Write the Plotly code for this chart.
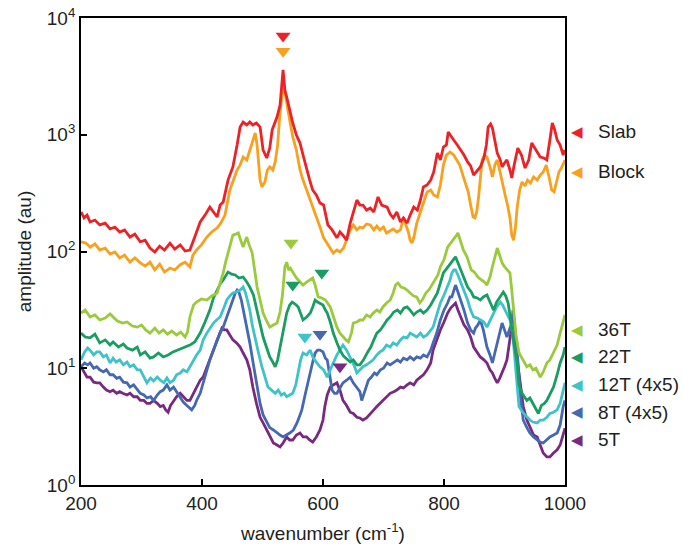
import numpy as np
import plotly.graph_objects as go

# ---------------- data ----------------
slab_wn = [200,205,210,215,223,231,240,248,256,264,272,281,289,298,306,314,322,330,338,347,355,364,372,380,388,397,405,413,419,425,430,435,443,451,458,463,468,474,479,484,490,496,501,507,512,516,524,529,534,537,540,545,550,556,562,567,573,578,583,589,595,601,608,615,623,628,633,639,645,650,656,661,666,672,678,684,691,697,706,711,716,722,728,733,739,744,750,756,761,766,772,778,783,789,794,799,804,807,812,816,822,828,833,839,844,849,855,860,866,870,873,877,880,884,888,893,896,900,904,909,912,916,922,928,934,940,945,952,959,965,970,975,979,983,987,992,997,1000]
slab_amp = [218,194,205,179,186,169,175,156,162,147,153,133,141,121,125,107,99,111,103,118,105,114,101,103,133,179,205,240,218,198,250,265,409,530,817,1164,1285,1213,1285,1213,1262,1164,740,632,769,1099,1419,1798,3589,2416,2104,1629,1262,995,849,671,499,409,336,305,260,250,169,153,131,147,138,125,175,218,276,250,250,226,236,218,293,250,240,209,194,218,179,194,175,205,240,226,276,357,371,409,480,698,608,785,817,1057,957,902,817,740,671,585,540,452,499,530,632,817,1164,1236,1143,902,698,608,530,573,608,499,426,551,769,671,519,608,849,740,645,632,608,902,1262,1099,902,817,671,740]

block_wn = [200,208,215,223,231,240,248,256,264,272,281,289,298,306,314,322,330,338,347,355,364,372,380,385,391,399,408,416,425,431,438,443,446,452,458,463,468,474,479,485,488,491,493,496,499,504,508,512,517,521,525,529,534,538,542,546,550,556,562,567,573,578,583,589,595,601,607,612,617,623,628,634,640,645,650,656,661,666,672,678,684,689,694,700,705,711,716,722,728,733,738,741,744,747,750,755,761,766,772,778,783,789,794,799,804,810,816,821,826,832,837,840,844,848,851,854,857,860,863,867,871,876,880,884,888,893,897,901,905,909,912,915,918,921,925,929,934,938,943,948,954,959,964,969,974,978,982,986,990,994,1000]
block_amp = [121,118,109,116,103,107,95,99,88,93,81,88,80,75,81,69.5,78,66.7,72,69.5,77,81,74,93,103,114,133,147,159,175,205,287,336,409,499,551,645,608,740,902,1035,817,608,409,357,394,499,530,499,585,817,1566,2512,2190,1629,1213,957,740,499,409,336,287,240,205,162,131,118,107,97,103,99,107,133,153,169,153,162,159,172,169,153,165,153,162,144,150,156,147,153,194,165,147,125,118,131,175,218,260,324,336,305,293,371,551,671,711,671,608,551,435,371,324,250,198,194,218,287,409,608,671,645,530,435,551,608,470,371,305,250,194,138,125,159,240,336,394,364,409,386,435,409,452,480,551,426,336,324,409,480,519,608]

t36_wn = [200,207,215,223,231,240,248,253,260,269,276,285,293,300,307,314,322,329,336,343,350,358,365,372,376,380,386,391,399,408,416,425,430,435,439,443,447,451,456,460,464,468,471,474,478,483,487,491,496,501,506,512,518,524,529,533,537,540,543,546,550,556,562,567,573,578,583,587,592,598,604,612,618,623,628,633,638,642,647,650,656,661,666,672,678,683,689,694,699,705,711,716,720,724,729,734,739,744,750,755,760,764,770,775,780,786,790,794,800,806,811,816,820,823,827,832,838,845,850,856,862,867,871,876,880,884,888,892,896,900,904,909,912,915,919,924,930,937,942,947,952,959,964,970,975,981,987,992,997,1000]
t36_amp = [29.7,31.5,27.5,28.6,25.9,26.9,29.2,27.5,25.4,24.4,24.9,23.0,22.5,23.5,21.3,20.0,22.1,20.0,21.3,19.6,20.8,19.3,20.4,18.5,20.4,27.5,34.8,36.9,39.2,38.4,41.6,44.1,53.7,65.5,81,97,118,138,141,144,125,109,121,133,114,97,69.5,49.6,38.4,29.7,25.9,22.5,23.5,24.4,30.3,42.4,74,81,69.5,72,66.7,59.3,54.8,51.6,54.8,57,59.3,51.6,40.8,40.0,38.4,33.5,26.9,22.5,20.0,18.5,17.5,16.8,20.0,24.4,24.9,25.9,25.9,28.6,27.5,29.7,31.5,30.3,33.5,36.2,38.4,44.1,51.6,53.7,49.6,48.7,46.8,44.1,41.6,40.8,36.2,38.4,44.1,46.8,51.6,57,63,74,85,109,118,125,136,144,125,103,90,69.5,66.7,60.5,57,54.8,51.6,60.5,74,90,107,93,80,74,69.5,65.5,46.8,29.7,19.3,13.5,11.8,10.3,10.7,9.7,10.0,8.4,9.3,11.1,11.8,13.5,15.8,20.0,25.9,28.6]

t22_wn = [200,207,215,223,231,240,248,253,262,270,276,285,293,298,306,314,320,328,336,344,352,358,364,372,380,388,397,405,413,419,425,430,435,439,443,449,455,461,468,474,479,485,491,496,501,507,512,517,521,525,529,535,540,545,549,554,559,564,567,573,579,583,587,591,595,600,604,607,612,617,623,628,634,640,645,650,656,661,667,673,679,684,689,695,700,706,711,717,723,728,734,739,744,750,755,761,766,772,778,783,789,794,799,805,811,815,819,823,828,834,839,845,849,855,860,865,871,876,882,887,893,898,902,906,909,912,916,921,924,929,937,942,947,952,956,961,966,970,976,981,987,992,997,1000]
t22_amp = [20.0,18.5,18.2,19.6,16.5,17.5,15.8,16.8,15.2,16.1,14.9,14.3,15.2,13.0,13.8,12.2,12.5,13.5,12.5,13.0,13.8,14.3,14.6,15.2,15.8,16.8,20.0,24.9,31.5,40.0,46.8,52.7,57,61.7,66.7,64,63,59.3,60.5,54.8,49.6,42.4,31.5,24.4,18.5,14.9,12.5,11.3,10.3,11.8,15.2,21.3,29.7,34.8,36.9,35.5,33.5,28.6,25.9,27.5,29.7,33.5,38.4,36.9,36.2,34.8,31.5,29.7,24.9,20.0,16.5,14.3,12.7,11.8,11.3,11.8,10.7,10.7,11.8,13.5,15.2,17.5,20.0,21.3,23.5,25.9,27.5,30.3,31.5,29.7,32.8,33.5,31.5,28.6,30.3,31.5,29.7,31.5,34.8,38.4,44.1,53.7,65.5,72,80,85,90,80,69.5,59.3,49.6,45.0,40.8,40.0,38.4,40.8,42.4,36.9,31.5,36.9,40.8,45.0,41.6,36.2,28.6,21.3,15.8,11.1,7.2,6.1,5.3,5.56,5.0,4.57,4.1,4.8,5.0,5.3,6.1,6.9,8.8,11.1,13.0,15.2]

t12_wn = [200,206,211,215,221,226,231,237,242,248,253,258,264,270,276,281,287,293,298,304,309,315,320,326,331,337,342,347,353,358,364,369,375,380,386,391,397,402,408,413,419,424,430,436,441,446,451,457,463,468,472,475,479,483,488,493,499,504,509,515,521,526,531,536,540,545,550,555,559,563,567,573,579,583,589,595,601,607,612,617,623,628,633,639,645,651,656,661,666,672,678,683,689,694,699,705,711,716,722,728,733,739,744,750,755,761,766,772,778,782,788,794,800,806,810,813,816,819,823,828,833,839,844,849,855,860,866,871,876,882,887,893,897,901,905,909,913,917,921,924,930,937,942,947,954,959,964,970,975,981,987,992,997,1000]
t12_amp = [11.8,13.8,14.9,14.3,13.0,13.8,13.8,12.5,13.0,11.1,12.2,11.3,11.8,10.7,11.3,10.3,10.7,9.7,9.7,8.4,7.5,8.25,7.78,8.4,7.9,7.5,8.25,7.5,7.9,8.8,9.1,9.7,9.3,10.3,11.8,13.0,14.3,17.5,20.0,22.1,24.4,25.9,27.5,32.8,38.4,41.6,44.1,45.0,46.8,49.6,44.1,38.4,31.5,23.5,17.5,13.8,10.3,8.4,6.9,6.5,6.1,6.5,5.9,6.1,5.7,5.9,6.1,7.2,9.1,11.8,13.5,13.0,14.3,12.5,11.3,10.3,9.7,8.4,9.7,11.1,13.0,14.3,15.8,14.3,12.5,10.7,9.1,9.7,10.3,10.7,11.3,11.8,13.0,13.8,14.3,15.8,15.2,16.5,15.8,17.5,18.5,18.2,20.0,19.3,18.5,20.0,18.5,19.3,21.3,22.5,28.6,36.2,42.4,49.6,57,65.5,69.5,69.5,63,53.7,46.8,38.4,31.5,27.5,26.9,25.9,24.9,22.5,25.9,29.7,33.5,36.9,34.8,31.5,28.6,25.9,21.3,11.8,7.2,4.7,4.2,3.8,3.6,3.46,3.4,3.6,3.6,3.8,4.1,4.2,4.4,5.0,6.5,7.5]

t8_wn = [200,206,211,215,221,226,231,237,242,248,253,259,264,270,276,281,287,293,298,304,309,315,320,326,331,336,342,347,353,358,364,369,375,380,383,388,391,397,402,408,413,419,425,430,435,441,446,451,455,458,461,465,469,474,479,485,491,496,501,507,512,518,524,529,534,540,545,551,557,562,565,571,575,579,583,587,591,595,600,604,607,611,615,619,623,628,633,639,645,650,656,661,664,669,675,680,685,689,695,700,706,711,717,723,728,733,739,744,750,755,761,766,772,778,782,788,794,800,806,810,813,816,819,823,828,833,839,844,849,852,856,860,865,871,876,880,884,888,892,896,900,904,908,912,914,917,922,926,931,937,942,948,954,959,964,970,975,981,987,992,997,1000]
t8_amp = [10.3,11.1,10.7,11.1,10.0,10.3,9.7,9.3,9.7,8.8,8.8,8.2,8.4,7.6,7.5,6.9,7.2,6.5,6.1,5.9,5.56,5.7,5.3,5.9,6.3,6.5,7.2,6.5,6.9,6.3,5.7,5.14,4.8,4.57,4.4,4.8,5.3,6.1,7.5,9.3,11.8,14.3,17.5,20.0,22.5,27.5,33.5,38.4,44.1,46.8,45.0,38.4,30.3,23.5,16.5,10.7,7.2,5.0,3.98,3.46,3.1,2.96,2.79,2.68,2.58,2.68,2.79,2.96,3.4,3.98,4.4,6.1,7.6,9.7,11.3,13.5,14.3,14.3,13.8,12.2,11.8,8.8,6.5,6.1,6.1,6.78,7.5,7.9,8.4,7.5,6.9,6.3,5.3,6.5,7.9,8.4,9.1,8.8,9.7,10.0,11.1,10.7,11.3,11.8,11.3,12.2,11.8,12.5,11.8,12.5,12.2,13.0,12.5,14.3,16.5,20.0,25.9,31.5,36.2,40.8,40.8,46.8,51.6,45.0,38.4,31.5,24.4,21.3,20.0,22.1,23.5,25.9,21.3,15.2,13.0,11.1,13.5,16.5,20.0,24.4,21.3,18.5,21.3,24.4,31.5,21.3,11.8,5.9,3.6,3.1,2.79,2.58,2.43,2.33,2.29,2.43,2.58,2.68,2.79,3.26,4.7,5.3]

t5_wn = [200,205,210,215,221,226,231,237,242,248,253,259,264,269,276,281,287,293,298,304,309,314,320,326,331,336,340,344,348,352,358,364,369,375,380,386,391,397,402,408,413,419,425,429,433,437,441,446,451,457,463,468,474,479,484,490,496,501,507,512,518,524,529,534,540,545,550,556,562,567,573,578,583,589,595,600,603,607,612,617,623,628,633,639,645,650,656,661,666,672,678,684,689,694,700,705,711,717,722,728,733,739,744,750,755,761,766,772,778,782,788,794,800,806,811,816,819,823,828,833,839,844,849,855,860,866,871,876,880,884,888,892,896,900,904,906,910,914,918,922,927,931,937,942,948,954,959,964,970,975,981,987,992,997,1000]
t5_amp = [10.3,9.3,8.4,8.4,7.6,7.5,7.5,6.9,6.5,6.3,6.5,6.1,6.3,6.1,5.9,6.1,5.7,5.7,5.3,5.3,5.0,5.0,5.3,5.0,4.7,4.8,4.4,4.2,4.8,5.14,5.7,6.1,5.7,5.3,5.3,6.1,6.9,7.9,8.4,10.0,11.8,14.3,17.5,20.0,22.1,21.3,21.3,19.3,17.5,16.5,15.2,13.5,11.8,9.7,6.9,5.0,3.8,3.4,2.96,2.68,2.29,2.2,2.12,2.29,2.58,2.43,2.43,2.68,2.79,2.58,2.58,2.43,2.33,2.58,2.96,3.6,4.7,5.9,6.9,7.2,7.5,6.5,5.3,4.8,4.2,4.1,3.8,3.75,3.6,3.75,4.1,4.4,4.7,5.0,5.3,5.7,6.1,6.3,6.5,6.9,6.78,7.2,7.5,7.2,7.9,8.4,8.8,9.7,11.1,14.3,17.5,21.3,24.9,29.7,32.8,34.8,36.2,31.5,27.5,23.5,21.3,18.5,15.2,13.8,12.5,11.8,11.1,9.7,9.1,8.2,7.5,8.2,9.1,10.3,11.8,14.3,19.3,22.5,15.8,11.1,6.5,4.7,3.6,3.1,2.68,2.58,2.2,1.88,1.74,1.74,1.88,2.0,2.2,2.79,3.07]

# peak markers (wavenumber, amplitude)
slab_peak_wn = [534];       slab_peak_amp = [7010]
block_peak_wn = [534];      block_peak_amp = [5200]
t36_peak_wn = [547];        t36_peak_amp = [118]
t22_peak_wn = [550, 598];   t22_peak_amp = [51.6, 65.5]
t12_peak_wn = [570];        t12_peak_amp = [18.5]
t8_peak_wn = [595];         t8_peak_amp = [19.6]
t5_peak_wn = [628];         t5_peak_amp = [10.3]

# legend labels on the right (label, level)
labels = ["Slab", "Block", "36T", "22T", "12T (4x5)", "8T (4x5)", "5T"]
label_levels = [1057, 480, 21.3, 12.5, 7.2, 4.2, 2.43]

colors = ["#ED2227", "#F8A11E", "#9BCA3C", "#1A9D62", "#3FC2C9", "#4568B1", "#782A80"]

series = [
    (slab_wn, slab_amp, slab_peak_wn, slab_peak_amp),
    (block_wn, block_amp, block_peak_wn, block_peak_amp),
    (t36_wn, t36_amp, t36_peak_wn, t36_peak_amp),
    (t22_wn, t22_amp, t22_peak_wn, t22_peak_amp),
    (t12_wn, t12_amp, t12_peak_wn, t12_peak_amp),
    (t8_wn, t8_amp, t8_peak_wn, t8_peak_amp),
    (t5_wn, t5_amp, t5_peak_wn, t5_peak_amp),
]

FONT = "Liberation Sans, Arial, sans-serif"
TXT = "#231F20"
PLOT_L, PLOT_R = 81, 565  # pixel edges of the plotting box

fig = go.Figure()
for (wn, amp, pw, pa), col, name in reversed(list(zip(series, colors, labels))):
    fig.add_trace(go.Scatter(x=wn, y=amp, mode="lines", name=name,
                             line=dict(color=col, width=2.8), showlegend=False))
for (wn, amp, pw, pa), col, name in zip(series, colors, labels):
    fig.add_trace(go.Scatter(x=pw, y=pa, mode="markers", showlegend=False,
                             marker=dict(symbol="triangle-down", size=13, color=col),
                             cliponaxis=False))

# right-hand legend: left-pointing triangles + text (paper x, data y)
w = PLOT_R - PLOT_L
tri_x = (577 - PLOT_L) / w
txt_x = (596 - PLOT_L) / w
for lab, lev, col in zip(labels, label_levels, colors):
    ly = float(np.log10(lev))
    fig.add_annotation(xref="paper", yref="y", x=tri_x, y=ly, text="\u25C0",
                       showarrow=False, xanchor="center", yanchor="middle",
                       font=dict(family="DejaVu Sans", size=15, color=col))
    fig.add_annotation(xref="paper", yref="y", x=txt_x, y=ly, text=lab,
                       showarrow=False, xanchor="left", yanchor="middle",
                       font=dict(family=FONT, size=19, color=TXT))

fig.update_layout(
    width=683, height=545,
    margin=dict(l=PLOT_L, r=683 - PLOT_R, t=18, b=60, autoexpand=False),
    paper_bgcolor="white", plot_bgcolor="white",
    font=dict(family=FONT, size=19, color=TXT),
)
fig.update_xaxes(range=[200, 1000], tickvals=[200, 400, 600, 800, 1000],
                 ticks="inside", ticklen=6, tickwidth=1.6, tickcolor="black",
                 showline=True, linewidth=1.8, linecolor="black", mirror=True,
                 showgrid=False, zeroline=False, automargin=False,
                 tickfont=dict(size=19, family=FONT, color=TXT),
                 title=dict(text="wavenumber (cm<sup>-1</sup>)", standoff=14,
                            font=dict(size=19, family=FONT, color=TXT)))
fig.update_yaxes(type="log", range=[0, 4],
                 tickvals=[1, 10, 100, 1000, 10000],
                 ticktext=["10<sup>0</sup>", "10<sup>1</sup>", "10<sup>2</sup>",
                           "10<sup>3</sup>", "10<sup>4</sup>"],
                 ticks="inside", ticklen=6, tickwidth=1.6, tickcolor="black",
                 showline=True, linewidth=1.8, linecolor="black", mirror=True,
                 showgrid=False, zeroline=False, automargin=False,
                 tickfont=dict(size=19, family=FONT, color=TXT),
                 title=dict(text="amplitude (au)", standoff=10,
                            font=dict(size=19, family=FONT, color=TXT)))

fig.write_html("out.html",
               config={"displayModeBar": False},
               post_script="document.body.style.margin='0';"
                           "document.body.style.overflow='hidden';")
